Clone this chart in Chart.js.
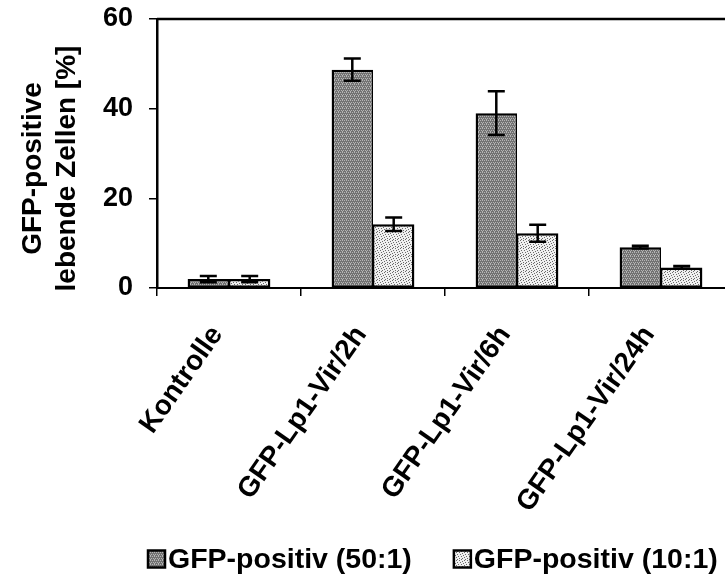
<!DOCTYPE html>
<html lang="de">
<head>
<meta charset="UTF-8">
<title>GFP-positive lebende Zellen</title>
<style>
  html, body { margin: 0; padding: 0; background: #fff; overflow: hidden; }
  #wrap { width: 740px; height: 578px; }
</style>
</head>
<body>
<div id="wrap"><canvas id="chart"></canvas></div>
<script src="https://cdn.jsdelivr.net/npm/chart.js"></script>
<script>
const categories = ['Kontrolle', 'GFP-Lp1-Vir/2h', 'GFP-Lp1-Vir/6h', 'GFP-Lp1-Vir/24h'];
const seriesNames = ['GFP-positiv (50:1)', 'GFP-positiv (10:1)'];
const values50 = [2.0, 48.7, 39.0, 9.1];
const errors50 = [0.7, 2.5, 4.9, 0.3];
const values10 = [2.0, 14.2, 12.2, 4.6];
const errors10 = [0.7, 1.5, 1.9, 0.3];
const yTicks = [0, 20, 40, 60];
const yTitle = ['GFP-positive', 'lebende Zellen [%]'];

const FONT = 'Arial, "Liberation Sans", sans-serif';

// repeating tiles for the stippled bar fills
function makePattern(size, base, dot, cells) {
  const c = document.createElement('canvas');
  c.width = size;
  c.height = size;
  const g = c.getContext('2d');
  g.fillStyle = base;
  g.fillRect(0, 0, size, size);
  g.fillStyle = dot;
  cells.forEach(([x, y]) => g.fillRect(x, y, 1, 1));
  return g.createPattern(c, 'repeat');
}

const darkFill = makePattern(4, '#727272', '#b4b4b4', [[0, 0], [2, 0], [1, 2], [3, 2], [2, 3]]);
const lightFill = makePattern(8, '#f0f0f0', '#6a6a6a', [
  [0, 0], [3, 0], [6, 1], [1, 2], [4, 2], [7, 3], [2, 4],
  [5, 4], [0, 5], [6, 6], [3, 6], [1, 7], [5, 7]
]);

const errorBars = {
  id: 'errorBars',
  afterDatasetsDraw(chart) {
    const { ctx } = chart;
    const y = chart.scales.y;
    ctx.save();
    ctx.strokeStyle = '#000';
    ctx.lineWidth = 2.5;
    chart.data.datasets.forEach((ds, i) => {
      chart.getDatasetMeta(i).data.forEach((bar, j) => {
        const top = y.getPixelForValue(ds.data[j] + ds.errors[j]);
        const bot = y.getPixelForValue(ds.data[j] - ds.errors[j]);
        const half = 8.5;
        ctx.beginPath();
        ctx.moveTo(bar.x, top);
        ctx.lineTo(bar.x, bot);
        ctx.moveTo(bar.x - half, top);
        ctx.lineTo(bar.x + half, top);
        ctx.moveTo(bar.x - half, bot);
        ctx.lineTo(bar.x + half, bot);
        ctx.stroke();
      });
    });
    ctx.restore();
  }
};

// top edge of the plot frame
const frameTop = {
  id: 'frameTop',
  afterDraw(chart) {
    const { ctx, chartArea: a } = chart;
    ctx.save();
    ctx.strokeStyle = '#000';
    ctx.lineWidth = 2.5;
    ctx.beginPath();
    ctx.moveTo(a.left, a.top);
    ctx.lineTo(a.right, a.top);
    ctx.stroke();
    ctx.restore();
  }
};

// two-line y axis title, sitting a little below the middle of the axis
const yAxisTitle = {
  id: 'yAxisTitle',
  afterDraw(chart) {
    const { ctx, chartArea: a } = chart;
    const cy = (a.top + a.bottom) / 2 + 15;
    ctx.save();
    ctx.font = 'bold 28px ' + FONT;
    ctx.fillStyle = '#000';
    ctx.textAlign = 'center';
    ctx.textBaseline = 'middle';
    yTitle.forEach((line, i) => {
      ctx.save();
      ctx.translate(33 + i * 34, cy);
      ctx.rotate(-Math.PI / 2);
      ctx.fillText(line, 0, 0);
      ctx.restore();
    });
    ctx.restore();
  }
};

// legend row along the bottom, swatch tight against its label
const bottomLegend = {
  id: 'bottomLegend',
  afterDraw(chart) {
    const { ctx, chartArea: a } = chart;
    const box = 17;
    const midY = chart.height - 18;
    let x = a.left - 9;
    ctx.save();
    ctx.font = 'bold 28.5px ' + FONT;
    ctx.textBaseline = 'middle';
    chart.data.datasets.forEach(ds => {
      ctx.fillStyle = ds.backgroundColor;
      ctx.fillRect(x, midY - box / 2 - 1, box, box);
      ctx.strokeStyle = '#000';
      ctx.lineWidth = 2.5;
      ctx.strokeRect(x, midY - box / 2 - 1, box, box);
      ctx.fillStyle = '#000';
      ctx.fillText(ds.label, x + box + 3, midY);
      x += box + 3 + ctx.measureText(ds.label).width + 42;
    });
    ctx.restore();
  }
};

new Chart(document.getElementById('chart'), {
  type: 'bar',
  data: {
    labels: categories,
    datasets: [
      {
        label: seriesNames[0],
        data: values50,
        errors: errors50,
        backgroundColor: darkFill,
        borderColor: '#000',
        borderWidth: { top: 2.5, left: 2.5, right: 1.5, bottom: 2 },
        borderSkipped: false
      },
      {
        label: seriesNames[1],
        data: values10,
        errors: errors10,
        backgroundColor: lightFill,
        borderColor: '#000',
        borderWidth: { top: 2.5, left: 1.5, right: 2.5, bottom: 2 },
        borderSkipped: false
      }
    ]
  },
  options: {
    responsive: true,
    maintainAspectRatio: false,
    animation: false,
    events: [],
    categoryPercentage: 0.575,
    barPercentage: 1.0,
    layout: { padding: { left: 88, right: 7, top: 0, bottom: 0 } },
    plugins: {
      legend: { display: false },
      tooltip: { enabled: false }
    },
    scales: {
      x: {
        // room below the axis for the slanted labels and the legend row
        afterFit: s => {
          s.height = 290;
          s.paddingLeft = 0;
          s.paddingRight = 0;
        },
        grid: { drawOnChartArea: false, offset: true, tickLength: 8, color: '#000', lineWidth: 1.5 },
        border: { color: '#000', width: 2 },
        ticks: {
          color: '#000',
          font: { family: FONT, size: 28, weight: 'bold' },
          minRotation: 55,
          maxRotation: 55,
          autoSkip: false,
          padding: 24,
          labelOffset: -12
        }
      },
      y: {
        min: 0,
        max: 60,
        afterBuildTicks: s => { s.ticks = yTicks.map(v => ({ value: v })); },
        afterFit: s => {
          s.width = 69;
          s.paddingTop = 19;
          s.paddingBottom = 0;
        },
        grid: { drawOnChartArea: false, tickLength: 8, color: '#000', lineWidth: 1.5 },
        border: { color: '#000', width: 2.5 },
        ticks: {
          color: '#000',
          font: { family: FONT, size: 27, weight: 'bold' },
          padding: 16
        }
      }
    }
  },
  plugins: [errorBars, frameTop, yAxisTitle, bottomLegend]
});
</script>
</body>
</html>
